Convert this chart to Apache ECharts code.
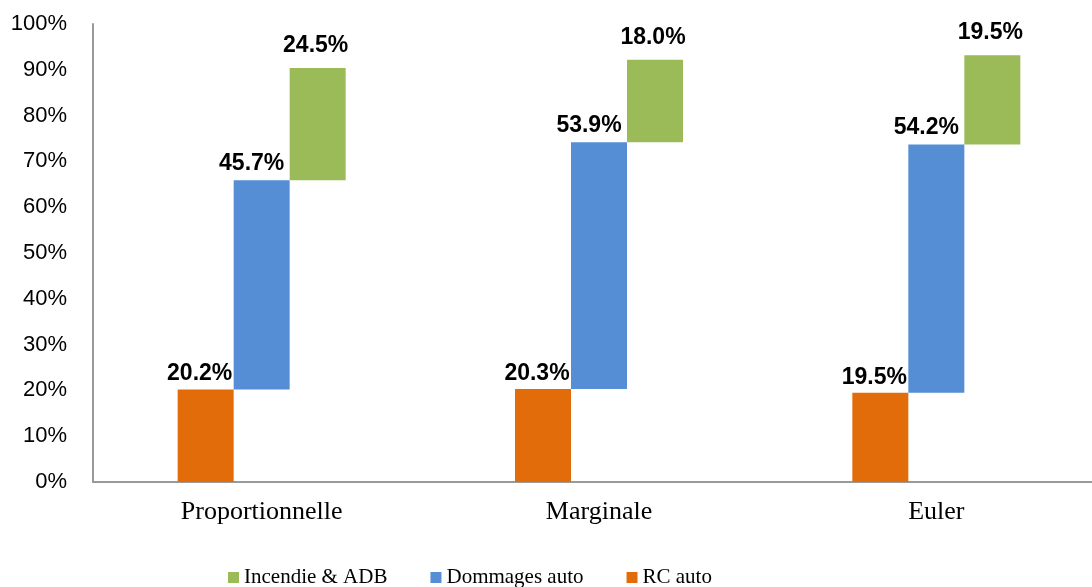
<!DOCTYPE html>
<html>
<head>
<meta charset="utf-8">
<script src="https://cdn.jsdelivr.net/npm/echarts@6/dist/echarts.min.js"></script>
<style>html,body{margin:0;padding:0;background:#fff;}#chart{width:1092px;height:587px;}</style>
</head>
<body>
<div id="chart"></div>
<script>
var categories = ['Proportionnelle', 'Marginale', 'Euler'];
var rcAuto = [20.2, 20.3, 19.5];
var dommagesAuto = [45.7, 53.9, 54.2];
var incendieADB = [24.5, 18.0, 19.5];
var yTicks = [0, 10, 20, 30, 40, 50, 60, 70, 80, 90, 100];

var baseDom = rcAuto.slice();
var baseInc = rcAuto.map(function (v, i) { return v + dommagesAuto[i]; });

function labelStyle(dist, dx) {
  return {
    show: true,
    position: 'top',
    distance: dist,
    offset: [dx, 0],
    color: '#000',
    fontWeight: 'bold',
    fontSize: 23,
    fontFamily: 'Liberation Sans',
    formatter: function (p) { return p.value.toFixed(1) + '%'; }
  };
}
var baseStyle = { color: 'transparent' };

var chart = echarts.init(document.getElementById('chart'), null, { renderer: 'canvas' });
chart.setOption({
  animation: false,
  grid: { left: 93, right: -13, top: 24, bottom: 105, containLabel: false, outerBoundsMode: 'none' },
  legend: {
    data: ['Incendie & ADB', 'Dommages auto', 'RC auto'],
    left: 223,
    top: 562,
    itemWidth: 11,
    itemHeight: 11,
    itemGap: 43,
    icon: 'rect',
    textStyle: { fontFamily: 'Liberation Serif', fontSize: 21, color: '#000' }
  },
  xAxis: {
    type: 'category',
    data: categories,
    axisLine: { lineStyle: { color: '#9a9a9a', width: 2 } },
    axisTick: { show: false },
    axisLabel: { fontFamily: 'Liberation Serif', fontSize: 26, color: '#000', margin: 17 }
  },
  yAxis: {
    type: 'value',
    min: yTicks[0],
    max: yTicks[yTicks.length - 1],
    interval: 10,
    axisLine: { show: true, lineStyle: { color: '#9a9a9a', width: 2 } },
    axisTick: { show: false },
    splitLine: { show: false },
    axisLabel: { formatter: '{value}%', fontFamily: 'Liberation Sans', fontSize: 22, color: '#000', margin: 26 }
  },
  series: [
    { name: 'RC auto', type: 'bar', stack: 'a', data: rcAuto, barWidth: 56, barGap: '0%', itemStyle: { color: '#E36C0A' }, label: labelStyle(4, -6) },
    { name: 'baseDom', type: 'bar', stack: 'b', data: baseDom, barWidth: 56, barGap: '0%', itemStyle: baseStyle, silent: true, emphasis: { disabled: true } },
    { name: 'Dommages auto', type: 'bar', stack: 'b', data: dommagesAuto, barWidth: 56, barGap: '0%', itemStyle: { color: '#558ED5' }, label: labelStyle(5, -10) },
    { name: 'baseInc', type: 'bar', stack: 'c', data: baseInc, barWidth: 56, barGap: '0%', itemStyle: baseStyle, silent: true, emphasis: { disabled: true } },
    { name: 'Incendie & ADB', type: 'bar', stack: 'c', data: incendieADB, barWidth: 56, barGap: '0%', itemStyle: { color: '#9BBB59' }, label: labelStyle(11, -2) }
  ]
});
</script>
</body>
</html>
